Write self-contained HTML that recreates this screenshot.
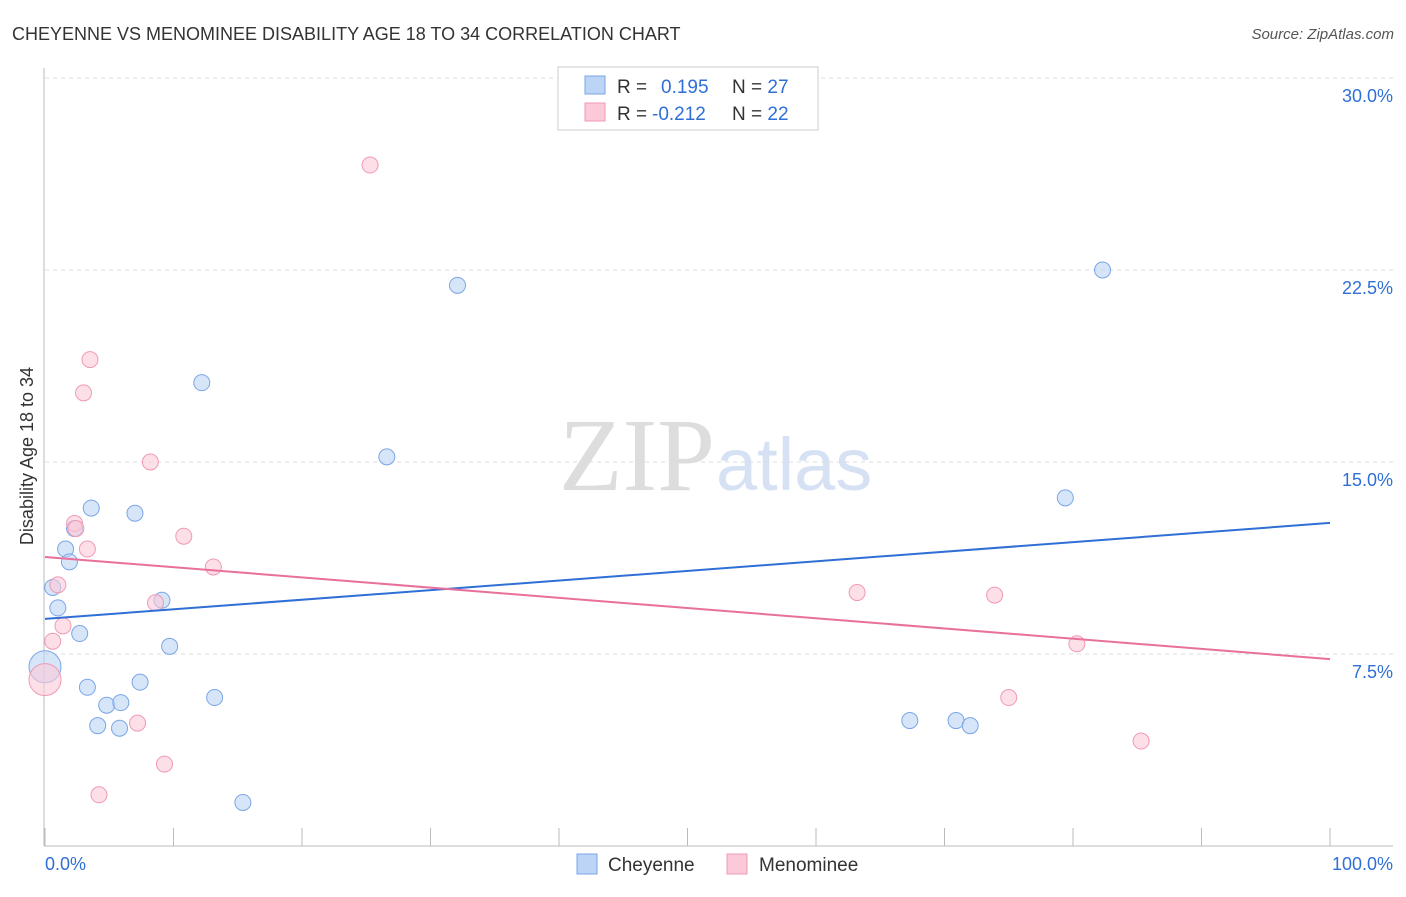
<!DOCTYPE html>
<html><head><meta charset="utf-8"><style>
body{margin:0;background:#fff;font-family:"Liberation Sans",sans-serif;}
</style></head><body>
<svg width="1406" height="892" xmlns="http://www.w3.org/2000/svg" id="chart">
<text x="12" y="40" font-size="18" fill="#333">CHEYENNE VS MENOMINEE DISABILITY AGE 18 TO 34 CORRELATION CHART</text>
<text x="1394" y="39" font-size="15" fill="#555" font-style="italic" text-anchor="end">Source: ZipAtlas.com</text>
<text x="715" y="490" font-size="104" fill="#ddd" text-anchor="end" font-family="Liberation Serif,serif">ZIP</text>
<text x="716" y="490" font-size="74" fill="#d6e2f4">atlas</text>
<text transform="translate(33,456) rotate(-90)" font-size="18" fill="#333" text-anchor="middle">Disability Age 18 to 34</text>
<g id="grid"></g><g id="marks"></g>
<rect x="558" y="67" width="260" height="63" fill="#fff" stroke="#ccc"/>
<rect x="585" y="76" width="20" height="18" fill="#bcd4f5" stroke="#7aa6e6"/>
<rect x="585" y="103" width="20" height="18" fill="#fbc9d8" stroke="#ef9ab4"/>
<text x="617" y="93" font-size="19" fill="#333">R = <tspan fill="#2f6fd6" x="661">0.195</tspan><tspan x="732" fill="#333">N = </tspan><tspan fill="#2f6fd6">27</tspan></text>
<text x="617" y="120" font-size="19" fill="#333">R = <tspan fill="#2f6fd6" x="652">-0.212</tspan><tspan x="732" fill="#333">N = </tspan><tspan fill="#2f6fd6">22</tspan></text>
<rect x="577" y="854" width="20" height="20" fill="#bcd4f5" stroke="#7aa6e6"/>
<text x="608" y="871" font-size="19" fill="#333">Cheyenne</text>
<rect x="727" y="854" width="20" height="20" fill="#fbc9d8" stroke="#ef9ab4"/>
<text x="759" y="871" font-size="19" fill="#333">Menominee</text>
<text x="45" y="870" font-size="18" fill="#2f6fd6">0.0%</text>
<text x="1393" y="870" font-size="18" fill="#2f6fd6" text-anchor="end">100.0%</text>
</svg>
<script>
const yTicks=[7.5,15,22.5,30];
const yTickLabels=["7.5%","15.0%","22.5%","30.0%"];
const cheyX=[0,0.6,1.0,1.6,1.9,2.3,2.7,3.3,3.6,4.1,4.8,5.8,5.9,7.0,7.4,9.1,9.7,12.2,13.2,15.4,26.6,32.1,67.3,70.9,72.0,79.4,82.3];
const cheyY=[7.0,10.1,9.3,11.6,11.1,12.4,8.3,6.2,13.2,4.7,5.5,4.6,5.6,13.0,6.4,9.6,7.8,18.1,5.8,1.7,15.2,21.9,4.9,4.9,4.7,13.6,22.5];
const menoX=[0,0.6,1.0,1.4,2.3,2.4,3.3,3.0,3.5,4.2,7.2,8.2,8.6,9.3,10.8,13.1,25.3,63.2,73.9,75.0,80.3,85.3];
const menoY=[6.5,8.0,10.2,8.6,12.6,12.4,11.6,17.7,19.0,2.0,4.8,15.0,9.5,3.2,12.1,10.9,26.6,9.9,9.8,5.8,7.9,4.1];
const cheyTrend=[8.87,12.62];
const menoTrend=[11.29,7.30];
const sx=v=>45+v*12.85, sy=v=>846-v*25.6;
const NS="http://www.w3.org/2000/svg";
const grid=document.getElementById('grid'), marks=document.getElementById('marks');
function mk(tag,attrs,parent){const e=document.createElementNS(NS,tag);for(const k in attrs)e.setAttribute(k,attrs[k]);parent.appendChild(e);return e;}
yTicks.forEach((t,i)=>{
 const l=mk('line',{x1:45,x2:1393,y1:sy(t),y2:sy(t),stroke:'#ddd','stroke-dasharray':'4,4'},grid);
 
 
 const tx=mk('text',{x:1393,y:sy(t)+24,'font-size':18,fill:'#2f6fd6','text-anchor':'end'},grid);
 tx.textContent=yTickLabels[i];
 
 
});
const ax=mk('line',{x1:44,x2:44,y1:68,y2:846,stroke:'#bbb'},grid);


const bx=mk('line',{x1:44,x2:1393,y1:846,y2:846,stroke:'#bbb'},grid);


for(let i=0;i<=10;i++){
 const t=mk('line',{x1:sx(i*10),x2:sx(i*10),y1:828,y2:846,stroke:'#bbb'},grid);
 
 
}
function pts(xs,ys,fill,stroke,name){
 xs.forEach((x,i)=>{
  const r=(i===0)?16:8;
  const c=mk('circle',{cx:sx(x),cy:sy(ys[i]),r:r,fill:fill,'fill-opacity':0.6,stroke:stroke,'stroke-width':1},marks);
  
  
 });
}
pts(cheyX,cheyY,'#bcd4f5','#7aa6e6','cheyenne-point');
pts(menoX,menoY,'#fbc9d8','#ef9ab4','menominee-point');
const l1=mk('line',{x1:sx(0),y1:sy(cheyTrend[0]),x2:sx(100),y2:sy(cheyTrend[1]),stroke:'#2f6fd6','stroke-width':2},marks);


const l2=mk('line',{x1:sx(0),y1:sy(menoTrend[0]),x2:sx(100),y2:sy(menoTrend[1]),stroke:'#e8709a','stroke-width':2},marks);


</script>
</body></html>
